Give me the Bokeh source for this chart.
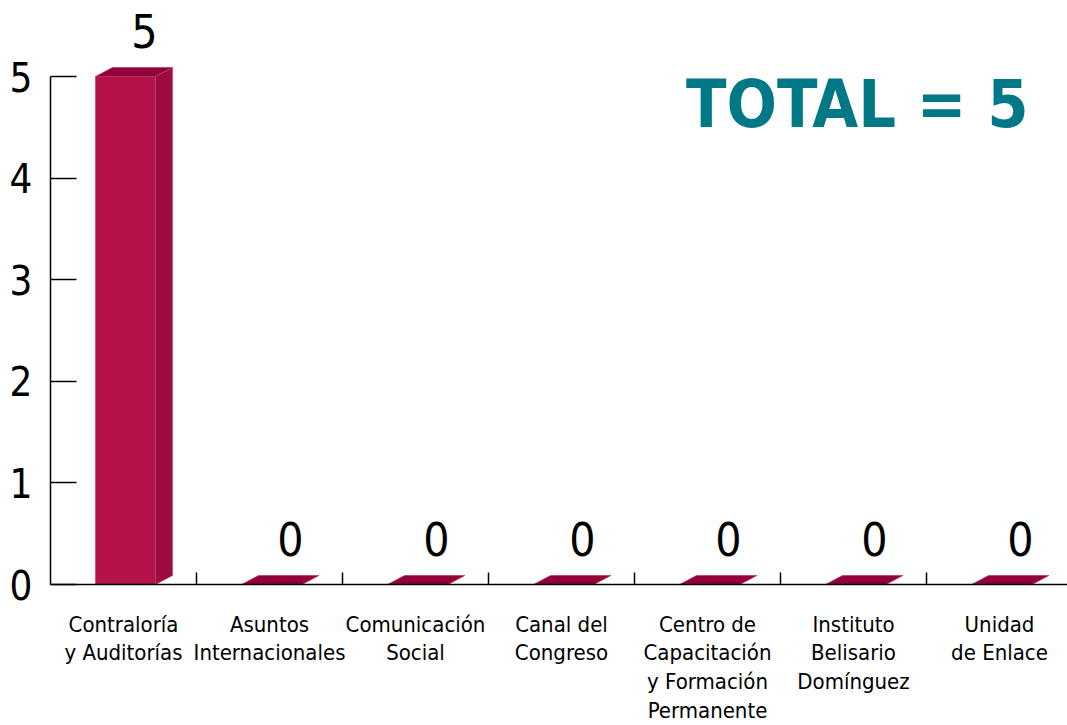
from bokeh.plotting import figure
from bokeh.models import Range1d, FixedTicker, Label
from bokeh.core.properties import value
from bokeh.embed import file_html
from bokeh.resources import INLINE

# ---- data ----
categories = [
    "Contraloría\ny Auditorías",
    "Asuntos\nInternacionales",
    "Comunicación\nSocial",
    "Canal del\nCongreso",
    "Centro de\nCapacitación\ny Formación\nPermanente",
    "Instituto\nBelisario\nDomínguez",
    "Unidad\nde Enlace",
]
counts = [5, 0, 0, 0, 0, 0, 0]
y_ticks = [0, 1, 2, 3, 4, 5]
total_text = "TOTAL = " + str(sum(counts))

# ---- layout ----
FONT = "DejaVu Sans Condensed"
W, H = 1067, 725
ML = 50
frame_h = 584
MB = H - frame_h
frame_w = W - ML
px_x = 146.0          # pixels per category
px_y = 101.6          # pixels per unit
x0 = -0.5
x_end = x0 + frame_w / px_x
y_end = frame_h / px_y

p = figure(width=W, height=H, output_backend="svg", toolbar_location=None,
           x_range=Range1d(x0, x_end), y_range=Range1d(0, y_end),
           min_border_left=ML, min_border_bottom=MB, min_border_top=0, min_border_right=0)
p.outline_line_color = None
p.grid.visible = False
p.background_fill_color = "white"
p.border_fill_color = "white"

n = len(categories)
centers = list(range(n))
bounds = [c + 0.5 for c in centers]

# ---- 3D bars ----
w = 60 / px_x
dx = 17 / px_x
dy = 9 / px_y
front_x, front_y, side_x, side_y, top_x, top_y = [], [], [], [], [], []
for c, v in zip(centers, counts):
    a, b = c - w / 2 + 2 / px_x, c + w / 2 + 2 / px_x
    front_x.append([a, b, b, a]); front_y.append([0, 0, v, v])
    side_x.append([b, b + dx, b + dx, b]); side_y.append([0, dy, v + dy, v])
    top_x.append([a, b, b + dx, a + dx]); top_y.append([v, v, v + dy, v + dy])

p.patches(front_x, front_y, fill_color="#B31349", line_color="#C8406E", line_width=0.7)
p.patches(side_x, side_y, fill_color="#9C0B42", line_color="#C8406E", line_width=0.7)
p.patches(top_x, top_y, fill_color="#910039", line_color="#B8386A", line_width=0.7)

# value labels
p.text(x=[c + dx + 4 / px_x for c in centers], y=[v + 46 / px_y for v in counts],
       text=[str(v) for v in counts],
       text_font=value(FONT), text_font_size="46px", text_color="black",
       text_align="center", text_baseline="alphabetic")

# total label
p.add_layout(Label(x=x_end - 39 / px_x, y=(584 - 131 + 27) / px_y, text=total_text,
                   text_font=FONT, text_font_size="66px", text_font_style="bold",
                   text_color="#007886", text_align="right", text_baseline="alphabetic"))

# ---- axes ----
xa = p.xaxis[0]
xa.ticker = FixedTicker(ticks=centers, minor_ticks=bounds)
xa.major_label_overrides = {c: lab for c, lab in zip(centers, categories)}
xa.major_tick_in = 0
xa.major_tick_out = 0
xa.minor_tick_in = 12
xa.minor_tick_out = 0
xa.minor_tick_line_color = "black"
xa.minor_tick_line_width = 1.5
xa.axis_line_color = "black"
xa.axis_line_width = 1.5
xa.major_label_text_font = FONT
xa.major_label_text_font_size = "22px"
xa.major_label_text_color = "black"
xa.major_label_standoff = 27
xa.major_label_text_line_height = 1.15

ya = p.yaxis[0]
ya.ticker = FixedTicker(ticks=y_ticks)
ya.bounds = (0, 5)
ya.major_tick_in = 26
ya.major_tick_out = 0
ya.minor_tick_line_color = None
ya.major_tick_line_color = "black"
ya.major_tick_line_width = 1.5
ya.axis_line_color = "black"
ya.axis_line_width = 1.5
ya.major_label_text_font = FONT
ya.major_label_text_font_size = "40px"
ya.major_label_text_color = "black"
ya.major_label_standoff = 18

open("out.html", "w").write(file_html(p, INLINE))
